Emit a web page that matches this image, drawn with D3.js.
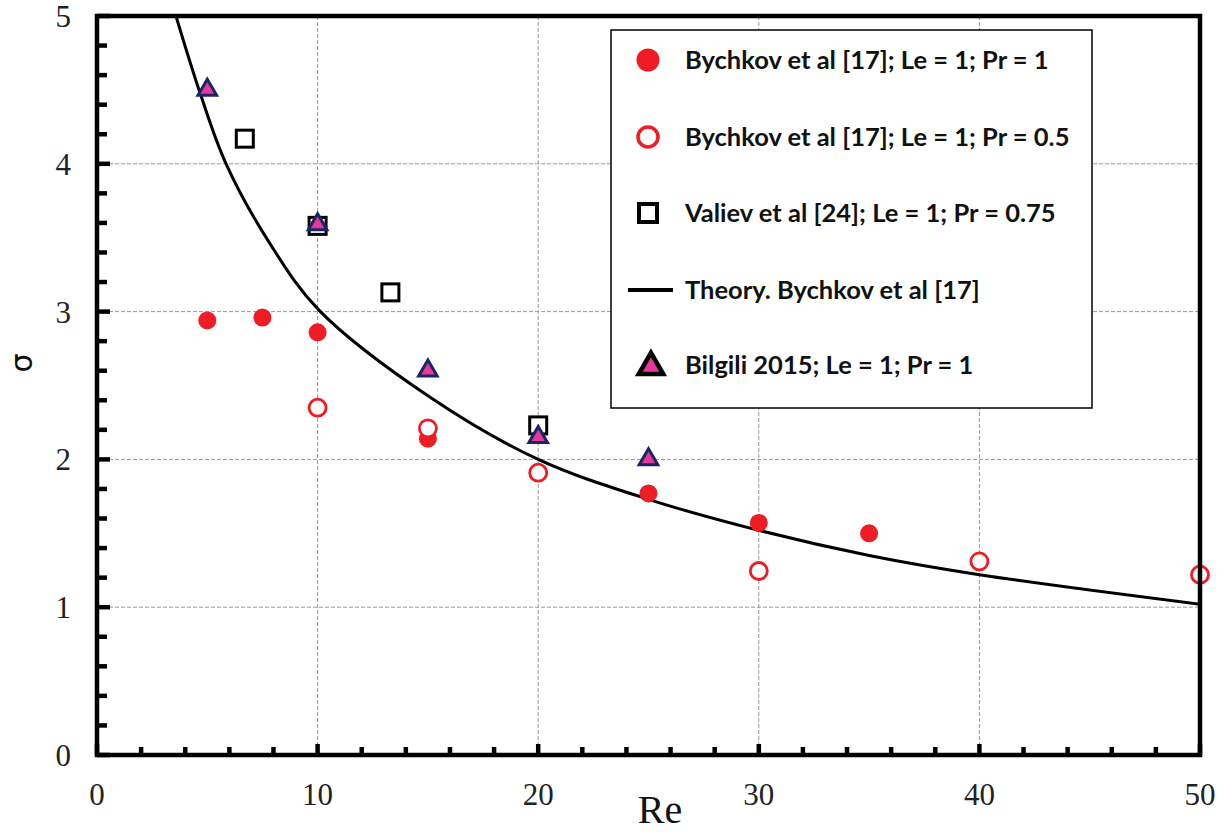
<!DOCTYPE html>
<html>
<head>
<meta charset="utf-8">
<script src="https://cdn.jsdelivr.net/npm/d3@7"></script>
<style>
  html, body { margin: 0; padding: 0; background: #fff; }
  svg { display: block; }
</style>
</head>
<body>
<svg id="chart" width="1223" height="834"></svg>
<script>
// Growth rate sigma versus Reynolds number: simulations vs. theory

// Bychkov et al [17]; Le = 1; Pr = 1
const reFilled    = [5, 7.5, 10, 15, 25, 30, 35];
const sigmaFilled = [2.94, 2.96, 2.86, 2.14, 1.77, 1.57, 1.50];

// Bychkov et al [17]; Le = 1; Pr = 0.5
const reOpen    = [10, 15, 20, 30, 40, 50];
const sigmaOpen = [2.35, 2.21, 1.91, 1.245, 1.31, 1.22];

// Valiev et al [24]; Le = 1; Pr = 0.75
const reSquare    = [6.7, 10, 13.3, 20];
const sigmaSquare = [4.17, 3.58, 3.13, 2.23];

// Bilgili 2015; Le = 1; Pr = 1
const reTri    = [5, 10, 15, 20, 25];
const sigmaTri = [4.50, 3.59, 2.60, 2.15, 2.00];

// Theory, Bychkov et al [17]
const reTheory    = [3.58, 4.67, 5.85, 7.84, 10.06, 15.1, 20, 25, 30, 35, 40, 50];
const sigmaTheory = [5.0, 4.48, 4.0, 3.46, 3.01, 2.42, 2.0, 1.73, 1.52, 1.35, 1.22, 1.02];

// Axis ticks
const xTicks = [0, 10, 20, 30, 40, 50];
const yTicks = [0, 1, 2, 3, 4, 5];

const legendLabels = [
  "Bychkov et al [17]; Le = 1; Pr = 1",
  "Bychkov et al [17]; Le = 1; Pr = 0.5",
  "Valiev et al [24]; Le = 1; Pr = 0.75",
  "Theory. Bychkov et al [17]",
  "Bilgili 2015; Le = 1; Pr = 1"
];

const RED = "#ee1c24";
const PINK = "#e2399a";
const NAVY = "#1d2466";

const svg = d3.select("#chart");
const x = d3.scaleLinear().domain([0, 50]).range([97, 1200]);
const y = d3.scaleLinear().domain([0, 5]).range([755, 16]);

const zip = (a, b) => a.map((v, i) => ({ re: v, s: b[i] }));

// Grid
const grid = svg.append("g");
grid.selectAll("line.gx").data(xTicks.slice(1, -1)).join("line")
  .attr("x1", d => x(d)).attr("x2", d => x(d))
  .attr("y1", y(5)).attr("y2", y(0))
  .attr("stroke", "#9a9a9a").attr("stroke-width", 1).attr("stroke-dasharray", "4,2");
grid.selectAll("line.gy").data(yTicks.slice(1, -1)).join("line")
  .attr("x1", x(0)).attr("x2", x(50))
  .attr("y1", d => y(d)).attr("y2", d => y(d))
  .attr("stroke", "#9a9a9a").attr("stroke-width", 1).attr("stroke-dasharray", "4,2");

// Theory curve
svg.append("defs").append("clipPath").attr("id", "plotClip")
  .append("rect").attr("x", x(0)).attr("y", y(5)).attr("width", x(50) - x(0)).attr("height", y(0) - y(5));

const line = d3.line().x(d => x(d.re)).y(d => y(d.s)).curve(d3.curveCatmullRom.alpha(0.5));
svg.append("path")
  .datum(zip(reTheory, sigmaTheory))
  .attr("clip-path", "url(#plotClip)")
  .attr("d", line)
  .attr("fill", "none").attr("stroke", "#000").attr("stroke-width", 3);

// Markers
const marks = svg.append("g");
marks.selectAll("circle.f").data(zip(reFilled, sigmaFilled)).join("circle")
  .attr("cx", d => x(d.re)).attr("cy", d => y(d.s)).attr("r", 9)
  .attr("fill", RED);
marks.selectAll("circle.o").data(zip(reOpen, sigmaOpen)).join("circle")
  .attr("cx", d => x(d.re)).attr("cy", d => y(d.s)).attr("r", 8.5)
  .attr("fill", "#fff").attr("stroke", RED).attr("stroke-width", 2.8);
marks.selectAll("rect.sq").data(zip(reSquare, sigmaSquare)).join("rect")
  .attr("x", d => x(d.re) - 8.5).attr("y", d => y(d.s) - 8.5)
  .attr("width", 17).attr("height", 17)
  .attr("fill", "#fff").attr("stroke", "#000").attr("stroke-width", 3);
const tri = d3.symbol().type(d3.symbolTriangle).size(150);
marks.selectAll("path.tri").data(zip(reTri, sigmaTri)).join("path")
  .attr("transform", d => `translate(${x(d.re)},${y(d.s)})`)
  .attr("d", tri)
  .attr("fill", PINK).attr("stroke", NAVY).attr("stroke-width", 3).attr("stroke-linejoin", "miter");

// Axis frame
const frame = svg.append("g");
frame.append("rect")
  .attr("x", x(0)).attr("y", y(5)).attr("width", x(50) - x(0)).attr("height", y(0) - y(5))
  .attr("fill", "none").attr("stroke", "#000").attr("stroke-width", 4.5);

// Inward ticks on bottom and left axes
const xMinor = d3.range(0, 50.01, 2);
frame.selectAll("line.xt").data(xMinor).join("line")
  .attr("x1", d => x(d)).attr("x2", d => x(d))
  .attr("y1", y(0)).attr("y2", d => y(0) - (d % 10 === 0 ? 11 : 8))
  .attr("stroke", "#000").attr("stroke-width", 4.5);
const yMinor = d3.range(0, 5.001, 0.2);
frame.selectAll("line.yt").data(yMinor).join("line")
  .attr("y1", d => y(d)).attr("y2", d => y(d))
  .attr("x1", x(0)).attr("x2", d => x(0) + (Math.abs(d - Math.round(d)) < 1e-6 ? 13 : 10))
  .attr("stroke", "#000").attr("stroke-width", 4.5);

// Tick labels
const tickFont = "'Liberation Serif', 'Times New Roman', serif";
svg.append("g").selectAll("text").data(xTicks).join("text")
  .attr("x", d => x(d)).attr("y", 805)
  .attr("text-anchor", "middle")
  .attr("font-family", tickFont).attr("font-size", 31).attr("fill", "#222")
  .text(d => d);
svg.append("g").selectAll("text").data(yTicks).join("text")
  .attr("x", 71).attr("y", d => y(d) + 11)
  .attr("text-anchor", "end")
  .attr("font-family", tickFont).attr("font-size", 31).attr("fill", "#222")
  .text(d => d);

// Axis titles
svg.append("text")
  .attr("x", 660).attr("y", 823)
  .attr("text-anchor", "middle")
  .attr("font-family", tickFont).attr("font-size", 40).attr("fill", "#111")
  .text("Re");
svg.append("text")
  .attr("transform", "translate(32,363) rotate(-90)")
  .attr("text-anchor", "middle")
  .attr("font-family", "'DejaVu Sans', sans-serif").attr("font-size", 30).attr("fill", "#111")
  .text("σ");

// Legend
const lg = svg.append("g");
lg.append("rect")
  .attr("x", 611).attr("y", 30).attr("width", 481).attr("height", 378)
  .attr("fill", "#fff").attr("stroke", "#000").attr("stroke-width", 1.5);

const rowY = [60, 137, 213, 290, 365];
const mx = 648;
lg.append("circle").attr("cx", mx).attr("cy", rowY[0]).attr("r", 11.5).attr("fill", RED);
lg.append("circle").attr("cx", mx).attr("cy", rowY[1]).attr("r", 10).attr("fill", "#fff")
  .attr("stroke", RED).attr("stroke-width", 3.5);
lg.append("rect").attr("x", mx - 9).attr("y", rowY[2] - 9).attr("width", 18).attr("height", 18)
  .attr("fill", "#fff").attr("stroke", "#000").attr("stroke-width", 4);
lg.append("line").attr("x1", 628).attr("x2", 673).attr("y1", rowY[3]).attr("y2", rowY[3])
  .attr("stroke", "#000").attr("stroke-width", 4);
lg.append("path")
  .attr("transform", `translate(${mx + 3},${rowY[4] + 2})`)
  .attr("d", d3.symbol().type(d3.symbolTriangle).size(260))
  .attr("fill", PINK).attr("stroke", "#000").attr("stroke-width", 4.5).attr("stroke-linejoin", "miter");

lg.selectAll("text").data(legendLabels).join("text")
  .attr("x", 685).attr("y", (d, i) => rowY[i] + 9)
  .attr("font-family", "Lato, 'Open Sans', sans-serif").attr("font-weight", "bold")
  .attr("font-size", 25.5).attr("fill", "#111")
  .text(d => d);
</script>
</body>
</html>
